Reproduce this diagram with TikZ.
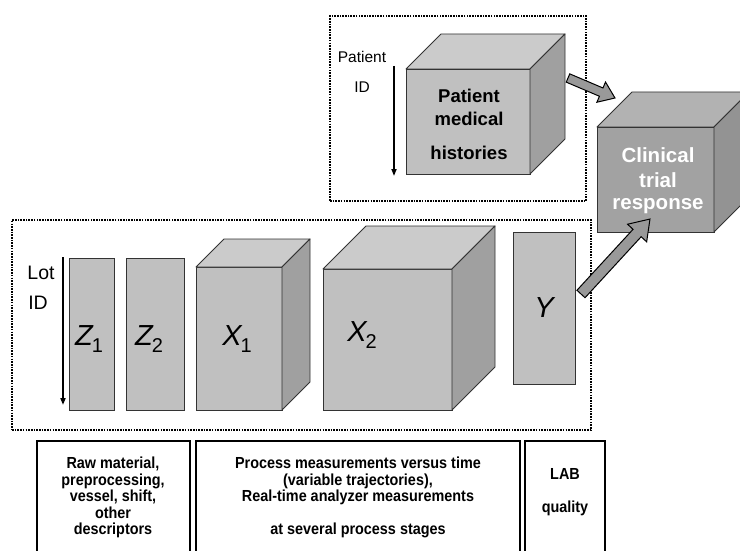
\documentclass[tikz,border=0pt]{standalone}
\usepackage{fontspec}
\setmainfont{Liberation Sans}
\newfontfamily\narrowbold[FakeStretch=0.9]{Liberation Sans Bold}
\usetikzlibrary{arrows.meta,calc}
\definecolor{facefront}{HTML}{C0C0C0}
\definecolor{facetop}{HTML}{CBCBCB}
\definecolor{faceside}{HTML}{A0A0A0}
\definecolor{cfront}{HTML}{A2A2A2}
\definecolor{ctop}{HTML}{B2B2B2}
\definecolor{cside}{HTML}{939393}
\definecolor{arrowgray}{HTML}{999999}
\definecolor{edgegray}{HTML}{333333}
\newcommand\drawcube[9]{%
  \node[face, fill=#7, minimum width={#4-#2}, minimum height={#5-#3}] (#1) at ({(#2+#4)/2},{(#3+#5)/2}) {};
  \draw[edge, fill=#8] (#1.north west) -- ($(#1.north west)+(#6,-#6)$) -- ($(#1.north east)+(#6,-#6)$) -- (#1.north east) -- cycle;
  \draw[edge, fill=#9] (#1.north east) -- ($(#1.north east)+(#6,-#6)$) -- ($(#1.south east)+(#6,-#6)$) -- (#1.south east) -- cycle;
}
\newcommand\blockarrow[5]{% start, tip, half shaft, half head, head length
  \draw[barrow] let \p1=($(#2)-(#1)$), \n1={veclen(\x1,\y1)}, \n2={atan2(\y1,\x1)} in
    [shift={(#1)}, rotate=\n2] (0pt,#3pt) -- (\n1-#5pt,#3pt) -- (\n1-#5pt,#4pt) -- (\n1,0pt)
    -- (\n1-#5pt,-#4pt) -- (\n1-#5pt,-#3pt) -- (0pt,-#3pt) -- cycle;
}
\begin{document}
\begin{tikzpicture}[x=1pt,y=-1pt,
  face/.style={draw=edgegray, line width=0.9pt, rectangle, inner sep=0pt, outer sep=0pt},
  edge/.style={draw=edgegray, line width=0.9pt, line join=round},
  barrow/.style={draw=black, line width=1pt, fill=arrowgray, line join=miter},
  dotbox/.style={draw=black, line width=2pt, dash pattern=on 1.6pt off 1.1pt},
  idarrow/.style={draw=black, -{Triangle[length=7pt,width=5pt]}},
  lbl/.style={font=\fontsize{15.5}{16}\selectfont, inner sep=0pt},
  sym/.style={font=\fontsize{29}{30}\selectfont, inner sep=0pt},
  boldlbl/.style={font=\bfseries\fontsize{18.5}{19}\selectfont, inner sep=0pt},
  whitelbl/.style={font=\bfseries\fontsize{20.5}{21}\selectfont, text=white, inner sep=0pt},
  btext/.style={font=\narrowbold\fontsize{16}{17}\selectfont, inner sep=0pt, anchor=base},
  bbox/.style={draw=black, line width=1.5pt, rectangle, inner sep=0pt, outer sep=0pt, anchor=north west}
]
\clip (0,0) rectangle (740,551);
\fill[white] (0,0) rectangle (740,551);

% dotted frames
\node[dotbox, rectangle, inner sep=0pt, minimum width=256pt, minimum height=185pt, anchor=north west] (ptframe) at (329,15) {};
\node[dotbox, rectangle, inner sep=0pt, minimum width=579pt, minimum height=210pt, anchor=north west] (lotframe) at (11,219) {};

% patient cube
\drawcube{pat}{406}{69}{530}{174}{35}{facefront}{facetop}{faceside}
\node[boldlbl] (pat1) at (469,96) {Patient};
\node[boldlbl] (pat2) at (469,119) {medical};
\node[boldlbl] (pat3) at (469,153) {histories};
\coordinate (pidtop) at (394,66);
\coordinate (pidbot) at (394,176);
\draw[idarrow, line width=1.6pt] (pidtop) -- (pidbot);
\node[lbl] (pidl1) at (362,57) {Patient};
\node[lbl] (pidl2) at (362,87) {ID};

% clinical cube
\drawcube{clin}{597}{127}{714}{232}{35}{cfront}{ctop}{cside}
\node[whitelbl] (cl1) at (658,155) {Clinical};
\node[whitelbl] (cl2) at (658,180) {trial};
\node[whitelbl] (cl3) at (658,206) {response};

% lot data
\coordinate (lidtop) at (63,257);
\coordinate (lidbot) at (63,405);
\draw[idarrow, line width=2.4pt] (lidtop) -- (lidbot);
\node[lbl, font=\fontsize{19.5}{20}\selectfont] (lid1) at (41,273) {Lot};
\node[lbl, font=\fontsize{19.5}{20}\selectfont] (lid2) at (38,303) {ID};

\node[face, fill=facefront, minimum width=45pt, minimum height=152pt, anchor=north west] (z1) at (69,258) {};
\node[face, fill=facefront, minimum width=58pt, minimum height=152pt, anchor=north west] (z2) at (126,258) {};
\drawcube{x1}{196}{267}{282}{410}{28}{facefront}{facetop}{faceside}
\drawcube{x2}{323}{269}{452}{410}{43}{facefront}{facetop}{faceside}
\node[face, fill=facefront, minimum width=62pt, minimum height=152pt, anchor=north west] (yb) at (513,232) {};

\node[sym] (z1l) at (89,339) {\itshape Z\kern-1pt\raisebox{-7pt}{\fontsize{20}{20}\selectfont\upshape 1}};
\node[sym] (z2l) at (149,339) {\itshape Z\kern-1pt\raisebox{-7pt}{\fontsize{20}{20}\selectfont\upshape 2}};
\node[sym] (x1l) at (237,339) {\itshape X\kern-1pt\raisebox{-7pt}{\fontsize{20}{20}\selectfont\upshape 1}};
\node[sym] (x2l) at (362,335) {\itshape X\kern-1pt\raisebox{-7pt}{\fontsize{20}{20}\selectfont\upshape 2}};
\node[sym] (yl) at (544,308) {\itshape Y};

% block arrows
\coordinate (a1s) at (568,78);
\coordinate (a1t) at (615,98);
\blockarrow{a1s}{a1t}{4.5}{11}{15}
\coordinate (a2s) at (581,294);
\coordinate (a2t) at (650,219);
\blockarrow{a2s}{a2t}{5.5}{13}{19}

% bottom boxes
\node[bbox, minimum width=153pt, minimum height=130pt] (bx1) at (37,441) {};
\node[bbox, minimum width=324pt, minimum height=130pt] (bx2) at (196,441) {};
\node[bbox, minimum width=80pt, minimum height=130pt] (bx3) at (525,441) {};

\foreach \t [count=\i] in {{Raw material,},{preprocessing,},{vessel, shift,},{other},{descriptors}}
  \node[btext] (ta\i) at (113,{468.5+(\i-1)*16.6}) {\t};
\node[btext] (tb1) at (358,468.5) {Process measurements versus time};
\node[btext] (tb2) at (358,485.1) {(variable trajectories),};
\node[btext] (tb3) at (358,501.7) {Real-time analyzer measurements};
\node[btext] (tb4) at (358,534.9) {at several process stages};
\node[btext] (tc1) at (565,479) {LAB};
\node[btext] (tc2) at (565,512) {quality};
\end{tikzpicture}
\end{document}
